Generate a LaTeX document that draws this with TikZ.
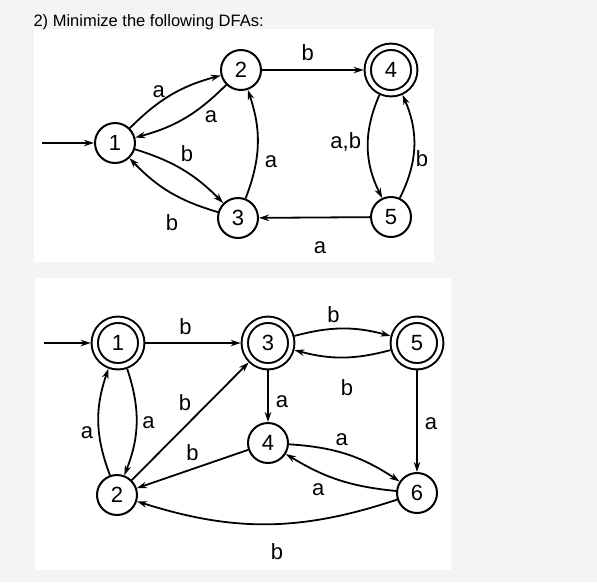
\documentclass[tikz,border=0pt]{standalone}
\usepackage[dvipsnames,svgnames,x11names]{xcolor}
\usepackage{fontspec}
\setmainfont{Liberation Sans}
\usetikzlibrary{backgrounds, calc}
\usetikzlibrary{arrows.meta}

\definecolor{pagegray}{RGB}{244,244,244}

\tikzset{
  dfastate/.style={circle, draw, line width=2pt, minimum size=40pt, inner sep=0pt,
    font=\fontsize{22}{22}\selectfont},
  dfafinal/.style={double, double distance=4.3pt, minimum size=46.5pt, outer sep=4.15pt},
  dfaedge/.style={-{Stealth[length=10pt, width=6.5pt]}, line width=1.8pt},
  dfalabel/.style={font=\fontsize{22}{22}\selectfont, inner sep=2pt},
}

\begin{document}
\begin{tikzpicture}[x=1pt, y=-1pt]
    \fill[pagegray] (0,0) rectangle (597,582);
    \fill[white] (34,29) rectangle (434,262);
    \fill[white] (35,278) rectangle (451,570);
    \node[anchor=base west, font=\fontsize{16.5}{18}\selectfont] (title) at (30,26)
      {2) Minimize the following DFAs:};

    % first DFA
    \coordinate (i1) at (42,143);
    \node[dfastate] (a1) at (115,143) {1};
    \node[dfastate] (a2) at (241,70) {2};
    \node[dfastate] (a3) at (238,218) {3};
    \node[dfastate, dfafinal] (a4) at (391,70) {4};
    \node[dfastate] (a5) at (391,217) {5};

    \draw[dfaedge] (i1) -- (a1);
    \draw[dfaedge] (a1) to[bend left=15] node[dfalabel, pos=0.35, above=2pt] {a} (a2);
    \draw[dfaedge] (a2) to[bend left=15] node[dfalabel, pos=0.18, below=9pt] {a} (a1);
    \draw[dfaedge] (a1) to[bend left=14] node[dfalabel, pos=0.55, above=8pt] {b} (a3);
    \draw[dfaedge] (a3) to[bend left=15] node[dfalabel, pos=0.47, below=18pt] {b} (a1);
    \draw[dfaedge] (a3) to[bend right=20] node[dfalabel, pos=0.33, right=6pt] {a} (a2);
    \draw[dfaedge] (a2) -- node[dfalabel, pos=0.45, above=6pt] {b} (a4);
    \draw[dfaedge] (a4) to[bend right=25] node[dfalabel, pos=0.45, left=4pt] {a,b} (a5);
    \draw[dfaedge] (a5) to[bend right=25] node[dfalabel, pos=0.38, right=0pt] {b} (a4);
    \draw[dfaedge] (a5) -- node[dfalabel, pos=0.45, below=21pt] {a} (a3);

    % second DFA
    \coordinate (i2) at (44,343);
    \node[dfastate, dfafinal] (b1) at (118,343) {1};
    \node[dfastate] (b2) at (117,495) {2};
    \node[dfastate, dfafinal] (b3) at (268,343) {3};
    \node[dfastate] (b4) at (268,443) {4};
    \node[dfastate, dfafinal] (b5) at (417,343) {5};
    \node[dfastate] (b6) at (417,493) {6};

    \draw[dfaedge] (i2) -- (b1);
    \draw[dfaedge] (b1) -- node[dfalabel, pos=0.42, above=5pt] {b} (b3);
    \draw[dfaedge] (b3) to[bend left=15] node[dfalabel, pos=0.4, above=3pt] {b} (b5);
    \draw[dfaedge] (b5) to[bend left=15] node[dfalabel, pos=0.45, below=19pt] {b} (b3);
    \draw[dfaedge] (b3) -- node[dfalabel, pos=0.6, right=5pt] {a} (b4);
    \draw[dfaedge] (b5) -- node[dfalabel, pos=0.52, right=5pt] {a} (b6);
    \draw[dfaedge] (b1) to[bend left=20] node[dfalabel, pos=0.5, right=3pt] {a} (b2);
    \draw[dfaedge] (b2) to[bend left=20] node[dfalabel, pos=0.4, left=3pt] {a} (b1);
    \draw[dfaedge] (b2) -- node[dfalabel, pos=0.55, above left=2pt] {b} (b3);
    \draw[dfaedge] (b4) -- node[dfalabel, pos=0.5, above=5pt] {b} (b2);
    \draw[dfaedge] (b4) to[bend left=15] node[dfalabel, pos=0.45, above=4pt] {a} (b6);
    \draw[dfaedge] (b6) to[bend left=13] node[dfalabel, pos=0.7, below=9pt] {a} (b4);
    \draw[dfaedge] (b6) to[bend left=18] node[dfalabel, pos=0.46, below=17pt] {b} (b2);
\end{tikzpicture}
\end{document}
